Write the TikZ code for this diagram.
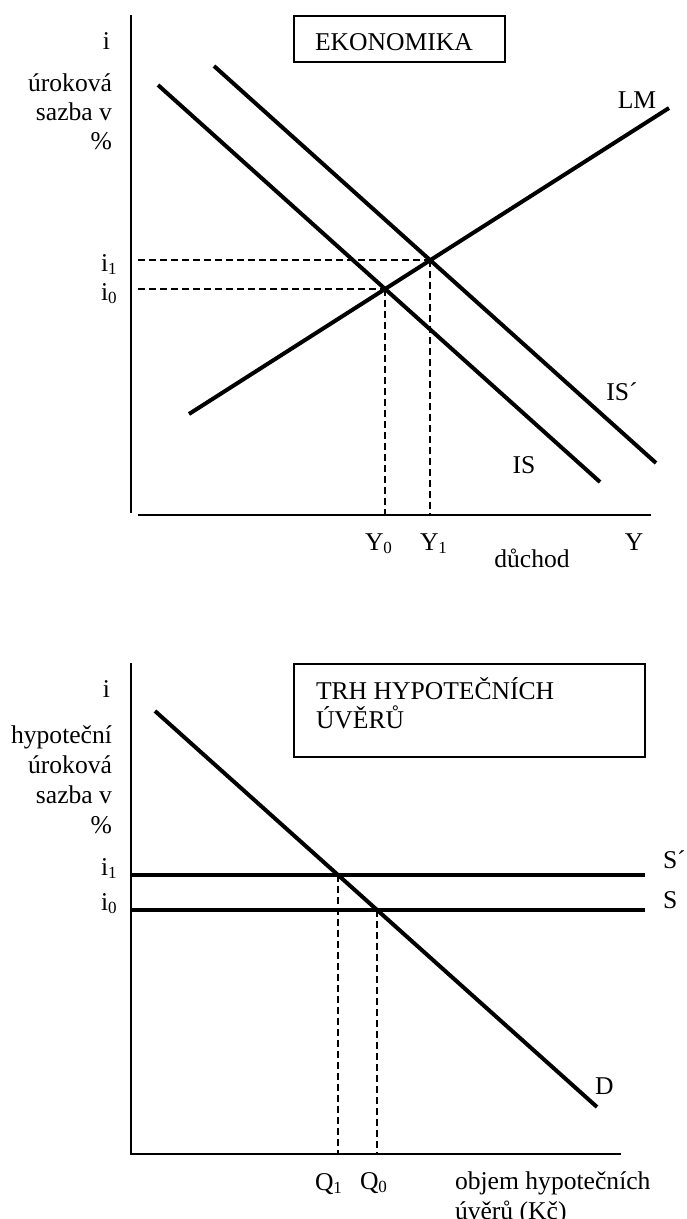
\documentclass[tikz,border=0pt]{standalone}
\usepackage{fontspec}
\setmainfont{Liberation Serif}
\newcommand\lsub[1]{\raisebox{-3.5pt}{\fontsize{17}{17}\selectfont #1}}
\begin{document}
\begin{tikzpicture}[x=1pt,y=-1pt,
  every node/.style={inner sep=0pt, outer sep=0pt, font=\fontsize{25.6}{29}\selectfont},
  axis/.style={line width=2pt},
  curve/.style={line width=4pt},
  guide/.style={line width=2pt, dash pattern=on 7pt off 4pt},
  frame/.style={draw, line width=2pt, anchor=north west}
]
\useasboundingbox (0,0) rectangle (686,1219);
\clip (0,0) rectangle (686,1219);

% ---------------- top panel: EKONOMIKA ----------------
\coordinate (vt1) at (131,15);
\coordinate (vb1) at (131,513);
\coordinate (hl1) at (138,515);
\coordinate (hr1) at (651,515);
\draw[axis] (vt1) -- (vb1);
\draw[axis] (hl1) -- (hr1);

\node[frame, minimum width=211pt, minimum height=46pt] (box1) at (294,16) {};
\node[anchor=base west] (t1) at (315,50) {EKONOMIKA};

\coordinate (ISa) at (158,85);
\coordinate (ISb) at (600,482);
\coordinate (ISpa) at (214,66);
\coordinate (ISpb) at (656,463);
\coordinate (LMa) at (189,414);
\coordinate (LMb) at (669,108);
\draw[curve] (ISa) -- (ISb);
\draw[curve] (ISpa) -- (ISpb);
\draw[curve] (LMa) -- (LMb);

\coordinate (E0) at (intersection of ISa--ISb and LMa--LMb);
\coordinate (E1) at (intersection of ISpa--ISpb and LMa--LMb);
\draw[guide] (E1 -| hl1) -- (E1);
\draw[guide] (E0 -| hl1) -- (E0);
\draw[guide] (E0) -- (E0 |- hl1);
\draw[guide] (E1) -- (E1 |- hl1);

\node[anchor=base east] (iT) at (110,49) {i};
\node[anchor=base east] (yT1) at (112,91) {úroková};
\node[anchor=base east] (yT2) at (112,120) {sazba v};
\node[anchor=base east] (yT3) at (112,149) {\%};
\node[anchor=base west] (i1T) at (101,271) {i\lsub{1}};
\node[anchor=base west] (i0T) at (101,300) {i\lsub{0}};

\node[anchor=base] (LMl) at (637,108) {LM};
\node[anchor=base] (ISpl) at (622,400) {IS´};
\node[anchor=base] (ISl) at (524,473) {IS};
\node[anchor=base west] (Y0l) at (365,550) {Y\lsub{0}};
\node[anchor=base west] (Y1l) at (420,550) {Y\lsub{1}};
\node[anchor=base] (Yl) at (634,550) {Y};
\node[anchor=base] (duch) at (532,567) {důchod};

% ---------------- bottom panel: TRH HYPOTECNICH UVERU ----------------
\coordinate (vt2) at (131,663);
\coordinate (o2) at (131,1154);
\coordinate (hr2) at (621,1154);
\draw[axis] (vt2) -- (o2) -- (hr2);

\node[frame, minimum width=351pt, minimum height=93pt] (box2) at (294,664) {};
\node[anchor=base west] (t2a) at (316,699) {TRH HYPOTEČNÍCH};
\node[anchor=base west] (t2b) at (316,728) {ÚVĚRŮ};

\coordinate (Spa) at (131,875);
\coordinate (Spb) at (645,875);
\coordinate (Sa) at (131,910);
\coordinate (Sb) at (645,910);
\coordinate (Da) at (155,711);
\coordinate (Db) at (597,1107);
\draw[curve] (Spa) -- (Spb);
\draw[curve] (Sa) -- (Sb);
\draw[curve] (Da) -- (Db);

\coordinate (F1) at (intersection of Da--Db and Spa--Spb);
\coordinate (F0) at (intersection of Da--Db and Sa--Sb);
\draw[guide] (F1) -- (F1 |- o2);
\draw[guide] (F0) -- (F0 |- o2);

\node[anchor=base east] (iB) at (110,697) {i};
\node[anchor=base east] (yB1) at (112,743) {hypoteční};
\node[anchor=base east] (yB2) at (112,773) {úroková};
\node[anchor=base east] (yB3) at (112,803) {sazba v};
\node[anchor=base east] (yB4) at (112,833) {\%};
\node[anchor=base west] (i1B) at (101,875) {i\lsub{1}};
\node[anchor=base west] (i0B) at (101,910) {i\lsub{0}};

\node[anchor=base west] (Spl) at (663,868) {S´};
\node[anchor=base west] (Sl) at (663,908) {S};
\node[anchor=base west] (Dl) at (595,1094) {D};
\node[anchor=base west] (Q1l) at (315,1190) {Q\lsub{1}};
\node[anchor=base west] (Q0l) at (360,1189) {Q\lsub{0}};
\node[anchor=base west] (xB1) at (455,1189) {objem hypotečních};
\node[anchor=base west] (xB2) at (455,1219) {úvěrů (Kč)};
\end{tikzpicture}
\end{document}
